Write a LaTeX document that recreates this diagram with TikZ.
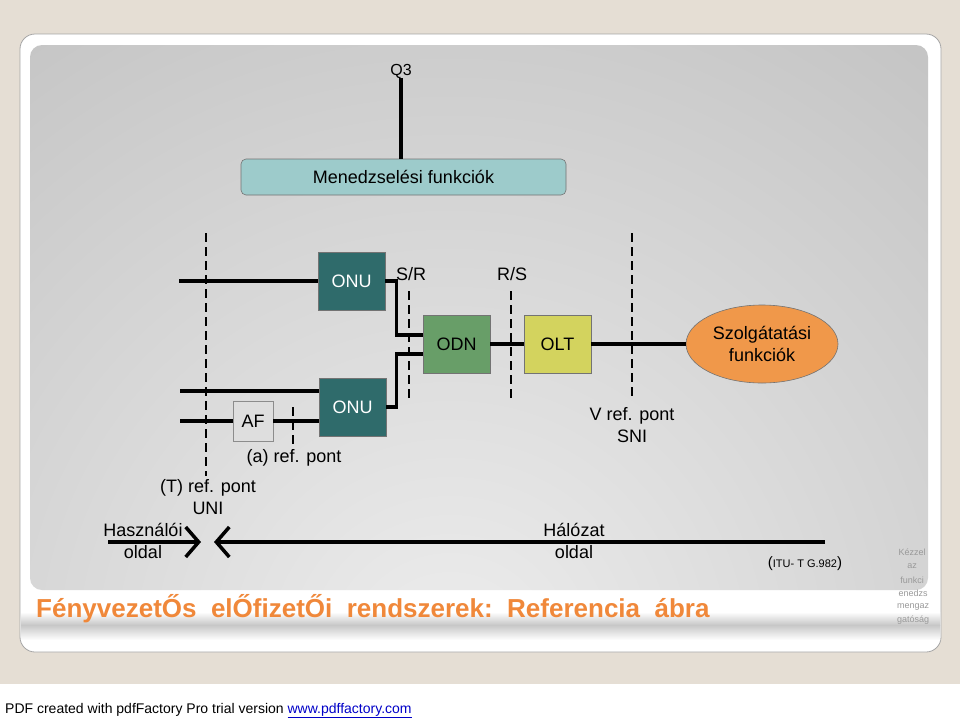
\documentclass[tikz,border=0pt]{standalone}
\usepackage{fontspec}
\setmainfont{Liberation Sans}
\usetikzlibrary{arrows.meta,shapes.geometric}

\definecolor{beige}{RGB}{229,222,212}
\definecolor{onucol}{RGB}{47,107,107}
\definecolor{odncol}{RGB}{104,158,104}
\definecolor{oltcol}{RGB}{211,211,94}
\definecolor{mgmtcol}{RGB}{157,203,203}
\definecolor{svccol}{RGB}{240,152,74}
\definecolor{titlecol}{RGB}{240,136,58}
\definecolor{afcol}{RGB}{222,222,222}
\definecolor{linkcol}{RGB}{0,0,200}

\tikzset{
  blokk/.style={draw=black!55, line width=0.6pt, minimum width=67pt, minimum height=58pt,
    inner sep=0pt, font=\fontsize{18}{20}\selectfont},
  vonal/.style={line width=3.5pt},
  refvonal/.style={line width=2.4pt, dash pattern=on 9pt off 5pt},
  felirat/.style={font=\fontsize{18}{22}\selectfont, align=center, inner sep=0pt},
  halvany/.style={font=\fontsize{9}{10}\selectfont, text=black!40, inner sep=0pt},
  nyilhegy/.style={-{Straight Barb[length=13pt,width=30pt]}},
}

\begin{document}
\begin{tikzpicture}[x=1pt,y=-1pt]
                \useasboundingbox (0,0) rectangle (960,718);
                % hatter
                \fill [white] (0,0) rectangle (960,718);
                \fill [beige] (0,0) rectangle (960,684);
                \draw [fill=white, draw=black!35, line width=0.8pt, rounded corners=15pt] (20,34) rectangle (941,652);
                \shade [top color=white, bottom color=black!22] (21,612) rectangle (940,625);
                \shade [top color=black!22, bottom color=white] (21,625) rectangle (940,640);
                \begin{scope}
                    \clip [rounded corners=12pt] (30,45) rectangle (928,590);
                    \shade [inner color=black!7, outer color=black!40] (450,660) circle (1600);
                \end{scope}
                % felso resz
                \node [felirat, font=\fontsize{16}{18}\selectfont] (q3) at (401,71) {Q3};
                \node [blokk, fill=mgmtcol, rounded corners=5pt, minimum width=325pt, minimum height=36pt] (mgmt) at (403.5,177) {Menedzselési funkciók};
                \draw [vonal] (q3.south) -- (q3.south |- mgmt.north);
                % blokkok
                \node [blokk, fill=onucol, text=white] (onu1) at (351.5,281) {ONU};
                \node [blokk, fill=onucol, text=white] (onu2) at (352.5,407) {ONU};
                \node [blokk, fill=odncol] (odn) at (456.5,344) {ODN};
                \node [blokk, fill=oltcol] (olt) at (557.5,344) {OLT};
                \node [blokk, fill=afcol, draw=black!45, minimum width=40pt, minimum height=40pt] (af) at (253,421) {AF};
                \node [ellipse, draw=black!55, line width=0.6pt, fill=svccol, minimum width=152pt, minimum height=78pt,
                    align=center, font=\fontsize{18}{22}\selectfont, inner sep=0pt] (szolg) at (762,344) {Szolgátatási\\funkciók};
                % vezetekek
                \coordinate (b1) at (179,281);
                \coordinate (b2) at (180,391);
                \coordinate (b3) at (180,421);
                \draw [vonal] (b1) -- (onu1.west);
                \draw [vonal] (b2) -- ([yshift=16pt]onu2.west);
                \draw [vonal] (b3) -- (af.west);
                \draw [vonal] (af.east) -- ([yshift=-14pt]onu2.west);
                \draw [vonal] (onu1.east) -| ([xshift=-26pt,yshift=9pt]odn.west) -- ([yshift=9pt]odn.west);
                \draw [vonal] ([yshift=-10pt]odn.west) -- ++(-26,0) |- (onu2.east);
                \draw [vonal] (odn.east) -- (olt.west);
                \draw [vonal] (olt.east) -- (szolg.west);
                % referencia pontok
                \coordinate (t1) at (206,233);   \coordinate (t2) at (206,476);
                \coordinate (a1) at (293,407);   \coordinate (a2) at (293,450);
                \coordinate (sr1) at (409,291);  \coordinate (sr2) at (409,399);
                \coordinate (rs1) at (511,291);  \coordinate (rs2) at (511,399);
                \coordinate (v1) at (632,233);   \coordinate (v2) at (632,399);
                \draw [refvonal] (t1) -- (t2);
                \draw [refvonal] (a1) -- (a2);
                \draw [refvonal] (sr1) -- (sr2);
                \draw [refvonal] (rs1) -- (rs2);
                \draw [refvonal] (v1) -- (v2);
                \node [felirat] (srtxt) at (411,274) {S/R};
                \node [felirat] (rstxt) at (512,274) {R/S};
                \node [felirat] (apont) at (294,458) {(a) ref. pont};
                \node [felirat] (tpont) at (208,497) {(T) ref. pont\\UNI};
                \node [felirat] (vpont) at (632,425) {V ref. pont\\SNI};
                % oldalak
                \coordinate (h1) at (108,542);   \coordinate (h2) at (201,542);
                \coordinate (j1) at (825,542);   \coordinate (j2) at (214,542);
                \draw [vonal, nyilhegy] (h1) -- (h2);
                \draw [vonal, nyilhegy] (j1) -- (j2);
                \node [felirat] (hasz) at (143,541) {Használói\\oldal};
                \node [felirat] (halo) at (574,541) {Hálózat\\oldal};
                \node [inner sep=0pt, font=\fontsize{11}{12}\selectfont] (itu) at (805,564)
                    {{\fontsize{15}{16}\selectfont(}ITU- T\ G.982{\fontsize{15}{16}\selectfont)}};
                % cim es lablec
                \node [anchor=base west, inner sep=0pt, text=titlecol, font=\bfseries\fontsize{26}{29}\selectfont] (cim) at (36,617)
                    {FényvezetŐs\ \ elŐfizetŐi\ \ rendszerek:\ \ Referencia\ \ ábra};
                \node [halvany] (m1) at (912,552) {Kézzel};
                \node [halvany] (m2) at (912,566) {az};
                \node [halvany] (m3) at (912,580) {funkci};
                \node [halvany] (m4) at (913,593) {enedzs};
                \node [halvany] (m5) at (913,607) {mengaz};
                \node [halvany] (m6) at (913,620) {gatóság};
                \node [anchor=base west, inner sep=0pt, font=\fontsize{14}{16}\selectfont] (pdf) at (5,713)
                    {PDF created with pdfFactory Pro trial version \textcolor{linkcol}{\underline{www.pdffactory.com}}};
            \end{tikzpicture}
\end{document}
